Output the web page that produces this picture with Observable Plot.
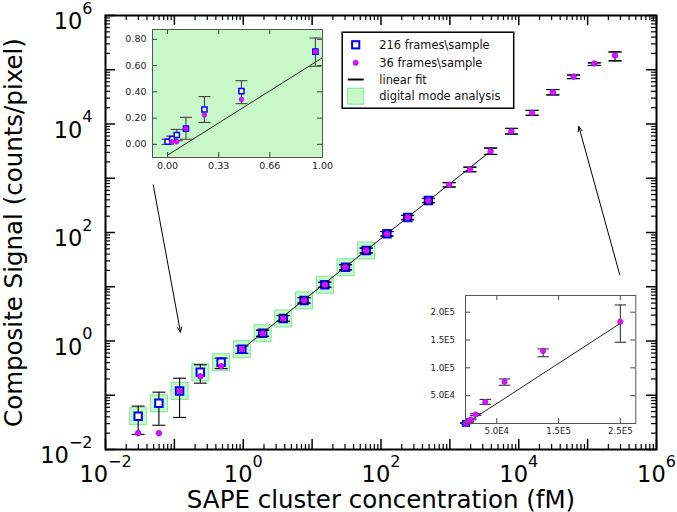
<!DOCTYPE html>
<html><head><meta charset="utf-8">
<script src="https://cdn.jsdelivr.net/npm/d3@7"></script>
<script src="https://cdn.jsdelivr.net/npm/@observablehq/plot@0.6"></script>
<style>
html,body{margin:0;padding:0;background:#fff;}
#wrap{position:relative;width:677px;height:512px;font-family:"DejaVu Sans",sans-serif;overflow:hidden;}
#wrap svg{position:absolute;}
</style></head><body><div id="wrap"></div>
<script>
// ---------- data ----------
const conc = [0.0298, 0.0596, 0.119, 0.238, 0.477, 0.954, 1.91, 3.81, 7.63, 15.3, 30.5, 61.0,
  122, 244, 488, 977, 1953, 3906, 7813, 15625, 31250, 62500, 125000, 250000];
const sig216 = [0.041, 0.071, 0.12, 0.266, 0.406, 0.706, 1.39, 2.6, 5.6, 10.9, 22.9, 46.6, 94.6, 189, 389];
const sig36 = [0.02, 0.02, 0.12, 0.224, 0.343, 0.706, 1.39, 2.6, 5.6, 10.9, 22.9, 46.6, 94.6, 189, 389,
  757, 1450, 3155, 7360, 16070, 38550, 75100, 130400, 183000];
const errLo = [0.019, 0.028, 0.039, 0.167, 0.31, 0.595, 1.22, 2.3, 5.0, 9.8, 20.5, 42, 86, 172, 355,
  690, 1320, 2750, 6530, 14500, 34400, 68700, 120000, 146000];
const errHi = [0.063, 0.114, 0.206, 0.364, 0.485, 0.81, 1.58, 2.95, 6.3, 12.1, 25.5, 51.5, 104, 207, 425,
  830, 1600, 3600, 8300, 17800, 43200, 80000, 134000, 213000];
const nDigital = 12;
const blankConc = [0];
const blankSig216 = [0.02];
const blankErrLo = [0.0];
const blankErrHi = [0.04];
const mainFitX = [0.954, 3906];
const mainFitY = [0.70, 3155];
const inset1FitX = [0, 1.0];
const inset1FitY = [-0.082, 0.66];
const inset2FitX = [0, 250000];
const inset2FitY = [0, 180000];
const decadeExps = [-2, -1, 0, 1, 2, 3, 4, 5, 6];
const labelExps = [-2, 0, 2, 4, 6];
const minorMultipliers = [2, 3, 4, 5, 6, 7, 8, 9];
const in1XTicks = [0, 0.33, 0.66, 1.0];
const in1XLabels = ["0.00", "0.33", "0.66", "1.00"];
const in1YTicks = [0, 0.2, 0.4, 0.6, 0.8];
const in1YLabels = ["0.00", "0.20", "0.40", "0.60", "0.80"];
const in2XTicks = [5e4, 1.5e5, 2.5e5];
const in2XLabels = ["5.0E4", "1.5E5", "2.5E5"];
const in2YTicks = [5e4, 1e5, 1.5e5, 2e5];
const in2YLabels = ["5.0E4", "1.0E5", "1.5E5", "2.0E5"];
const arrowX1 = [0.0493, 2.93e5];
const arrowY1 = [757, 16.6];
const arrowX2 = [0.1227, 7.45e4];
const arrowY2 = [1.452, 8990];
const legendLabels = ["216 frames\\sample", "36 frames\\sample", "linear fit", "digital mode analysis"];
const xTitle = "SAPE cluster concentration (fM)";
const yTitle = "Composite Signal (counts/pixel)";

// ---------- derived tables ----------
const rows = conc.map((c, i) => ({c, i, s216: i < sig216.length ? sig216[i] : null, s36: sig36[i], lo: errLo[i], hi: errHi[i]}));
const rows216 = rows.filter(d => d.s216 != null);
const rowsDigital = rows.filter(d => d.i < nDigital);
const rowsUpper = rows.filter(d => d.i >= 6);
const fitMain = mainFitX.map((x, i) => ({x, y: mainFitY[i]}));
const fit1 = inset1FitX.map((x, i) => ({x, y: inset1FitY[i]}));
const fit2 = inset2FitX.map((x, i) => ({x, y: inset2FitY[i]}));
const arrows = arrowX1.map((x1, i) => ({x1, y1: arrowY1[i], x2: arrowX2[i], y2: arrowY2[i]}));
const blankRows = blankConc.map((c, i) => ({c, s216: blankSig216[i], lo: blankErrLo[i], hi: blankErrHi[i]}));
const inset1Rows = blankRows.concat(rows.filter(d => d.c < 1));
const inset1Circles = rows.filter(d => d.c < 1);
const majorVals = decadeExps.map(e => 10 ** e);
const minorVals = decadeExps.slice(0, -1).flatMap(e => minorMultipliers.map(m => m * 10 ** e));

const GREEN_FILL = "#c8f7c8", GREEN_EDGE = "#7be89a";
const BLUE = "#0000ff", MAGENTA = "#ff00ff", CIRCLE_EDGE = "#5a2cff";
const capSymbol = {draw(ctx, size) { const r = Math.sqrt(size / Math.PI); ctx.moveTo(-r, 0); ctx.lineTo(r, 0); }};
const expLabel = d => "10^" + (d < 0 ? "\u2212" + (-d) : d);

function ticksX(values, len, fh, stroke, sw) {
  return [
    Plot.ruleX(values, {x: d => d, insetTop: fh - len, stroke, strokeWidth: sw}),
    Plot.ruleX(values, {x: d => d, insetBottom: fh - len, stroke, strokeWidth: sw})
  ];
}
function ticksY(values, len, fw, stroke, sw) {
  return [
    Plot.ruleY(values, {y: d => d, insetRight: fw - len, stroke, strokeWidth: sw}),
    Plot.ruleY(values, {y: d => d, insetLeft: fw - len, stroke, strokeWidth: sw})
  ];
}
function errorBars(data, yLo, yHi, capR, stroke, sw) {
  return [
    Plot.ruleX(data, {x: "c", y1: yLo, y2: yHi, stroke, strokeWidth: sw}),
    Plot.dot(data, {x: "c", y: yLo, symbol: capSymbol, r: capR, fill: "none", stroke, strokeWidth: sw}),
    Plot.dot(data, {x: "c", y: yHi, symbol: capSymbol, r: capR, fill: "none", stroke, strokeWidth: sw})
  ];
}

// ---------- main plot ----------
const W = 677, H = 512, mL = 105, mR = 21, mT = 15, mB = 63;
const fW = W - mL - mR, fH = H - mT - mB;
const wrap = document.getElementById("wrap");

const main = Plot.plot({
  width: W, height: H, marginLeft: mL, marginRight: mR, marginTop: mT, marginBottom: mB,
  style: {background: "transparent", fontFamily: "DejaVu Sans", overflow: "visible", color: "black"},
  x: {type: "log", domain: [1e-2, 1e6], axis: null},
  y: {type: "log", domain: [1e-2, 1e6], axis: null},
  marks: [
    Plot.dot(rowsDigital, {x: "c", y: "s216", symbol: "square", r: 9.6, fill: GREEN_FILL, stroke: GREEN_EDGE, strokeWidth: 1}),
    ...errorBars(rows, "lo", "hi", 6.5, "black", 1.1),
    Plot.dot(rows216, {x: "c", y: "s216", symbol: "square", r: 4.2, fill: "white", stroke: BLUE, strokeWidth: 2}),
    Plot.line(fitMain, {x: "x", y: "y", stroke: "black", strokeWidth: 1}),
    ...errorBars(rowsUpper, "lo", "hi", 6.5, "black", 1.1).slice(1),
    Plot.dot(rows, {x: "c", y: "s36", r: 2.8, fill: MAGENTA, stroke: CIRCLE_EDGE, strokeWidth: 0.8}),
    Plot.arrow(arrows, {x1: "x1", y1: "y1", x2: "x2", y2: "y2", stroke: "black", strokeWidth: 1, headLength: 8, headAngle: 45}),
    ...ticksX(majorVals, 10, fH, "black", 1.5),
    ...ticksX(minorVals, 5, fH, "black", 1.2),
    ...ticksY(majorVals, 10, fW, "black", 1.5),
    ...ticksY(minorVals, 5, fW, "black", 1.2),
    Plot.frame({stroke: "black", strokeWidth: 2}),
    Plot.text(labelExps, {x: d => 10 ** d, text: expLabel, frameAnchor: "bottom", dy: 32.7,
      lineAnchor: "bottom", textAnchor: "middle", fontSize: 22.5, fill: "black"}),
    Plot.text(labelExps, {y: d => 10 ** d, text: expLabel, frameAnchor: "left", dx: -13, dy: 13.5,
      lineAnchor: "bottom", textAnchor: "end", fontSize: 22.5, fill: "black"}),
    Plot.text([xTitle], {text: d => d, frameAnchor: "bottom", dy: 58, lineAnchor: "bottom", textAnchor: "middle", fontSize: 24.5, fill: "black"}),
    Plot.text([yTitle], {text: d => d, frameAnchor: "left", dx: -83.5, rotate: -90, lineAnchor: "bottom", textAnchor: "middle", fontSize: 24.5, fill: "black"})
  ]
});
main.style.left = "0px"; main.style.top = "0px";
wrap.appendChild(main);

// turn "10^e" tick labels into base + superscript tspans
d3.select(main).selectAll("text").each(function () {
  const t = this.textContent;
  if (t.indexOf("^") < 0) return;
  const [b, e] = t.split("^");
  this.textContent = "";
  const s = d3.select(this);
  s.append("tspan").text(b);
  s.append("tspan").attr("font-size", 16).attr("dy", -15.5).text(e);
});

// ---------- inset 1 ----------
const i1 = {l: 35, r: 12, t: 5, b: 20, fw: 170, fh: 128};
const inset1 = Plot.plot({
  width: i1.l + i1.fw + i1.r, height: i1.t + i1.fh + i1.b,
  marginLeft: i1.l, marginRight: i1.r, marginTop: i1.t, marginBottom: i1.b,
  style: {background: "transparent", fontFamily: "DejaVu Sans", overflow: "visible"},
  x: {domain: [-0.097, 1.0], axis: null},
  y: {domain: [-0.1, 0.875], axis: null},
  marks: [
    Plot.frame({fill: GREEN_FILL, stroke: "none"}),
    Plot.line(fit1, {x: "x", y: "y", stroke: "#222", strokeWidth: 1}),
    ...errorBars(inset1Rows, "lo", "hi", 6, "#444", 1.1),
    Plot.dot(inset1Rows, {x: "c", y: "s216", symbol: "square", r: 2.9, fill: "white", stroke: BLUE, strokeWidth: 1.5}),
    Plot.dot(inset1Circles, {x: "c", y: "s36", r: 2.4, fill: MAGENTA, stroke: CIRCLE_EDGE, strokeWidth: 0.6}),
    ...ticksX(in1XTicks, 5, i1.fh, "#444", 1),
    ...ticksY(in1YTicks, 5, i1.fw, "#444", 1),
    Plot.frame({stroke: "#555", strokeWidth: 1}),
    Plot.text(in1XTicks, {x: d => d, text: (d, i) => in1XLabels[i], frameAnchor: "bottom", dy: 11.7, lineAnchor: "bottom", textAnchor: "middle", fontSize: 9.5, fill: "#222"}),
    Plot.text(in1YTicks, {y: d => d, text: (d, i) => in1YLabels[i], frameAnchor: "left", dx: -6, textAnchor: "end", lineAnchor: "middle", fontSize: 9.5, fill: "#222"})
  ]
});
inset1.style.left = (151.7 - i1.l) + "px"; inset1.style.top = (29.3 - i1.t) + "px";
wrap.appendChild(inset1);

// ---------- inset 2 ----------
const i2 = {l: 42, r: 12, t: 8, b: 18, fw: 170.3, fh: 128};
const inset2 = Plot.plot({
  width: i2.l + i2.fw + i2.r, height: i2.t + i2.fh + i2.b,
  marginLeft: i2.l, marginRight: i2.r, marginTop: i2.t, marginBottom: i2.b,
  style: {background: "transparent", fontFamily: "DejaVu Sans", overflow: "visible"},
  x: {domain: [-700, 2.75e5], axis: null},
  y: {domain: [0, 2.3e5], axis: null},
  marks: [
    Plot.frame({fill: "white", stroke: "none"}),
    Plot.line(fit2, {x: "x", y: "y", stroke: "#222", strokeWidth: 1}),
    ...errorBars(rows, "lo", "hi", 5.7, "#333", 1.1),
    Plot.dot(rows216, {x: "c", y: "s216", symbol: "square", r: 2.9, fill: "white", stroke: BLUE, strokeWidth: 1.5}),
    Plot.dot(rows, {x: "c", y: "s36", r: 2.7, fill: MAGENTA, stroke: CIRCLE_EDGE, strokeWidth: 0.6}),
    ...ticksX(in2XTicks, 5, i2.fh, "#444", 1),
    ...ticksY(in2YTicks, 5, i2.fw, "#444", 1),
    Plot.frame({stroke: "#555", strokeWidth: 1}),
    Plot.text(in2XTicks, {x: d => d, text: (d, i) => in2XLabels[i], frameAnchor: "bottom", dy: 10.2, lineAnchor: "bottom", textAnchor: "middle", fontSize: 8.6, fill: "#222"}),
    Plot.text(in2YTicks, {y: d => d, text: (d, i) => in2YLabels[i], frameAnchor: "left", dx: -10.5, textAnchor: "end", lineAnchor: "middle", fontSize: 8.6, fill: "#222"})
  ]
});
inset2.style.left = (464.7 - i2.l) + "px"; inset2.style.top = (295.3 - i2.t) + "px";
wrap.appendChild(inset2);

// ---------- legend ----------
const lg = d3.create("svg").attr("width", 175).attr("height", 80)
  .style("left", "341px").style("top", "30.5px").style("font-family", "DejaVu Sans");
lg.append("rect").attr("x", 1.2).attr("y", 1.2).attr("width", 171.5).attr("height", 76)
  .attr("fill", "white").attr("stroke", "black").attr("stroke-width", 1.5);
const rowY = [13.8, 31.8, 48.5, 65.2];
const mx = 14.7;
lg.append("rect").attr("x", mx - 3.6).attr("y", rowY[0] - 3.6).attr("width", 7.2).attr("height", 7.2)
  .attr("fill", "white").attr("stroke", BLUE).attr("stroke-width", 2);
lg.append("circle").attr("cx", mx).attr("cy", rowY[1]).attr("r", 2.6).attr("fill", MAGENTA).attr("stroke", CIRCLE_EDGE).attr("stroke-width", 0.7);
lg.append("line").attr("x1", mx - 8).attr("x2", mx + 8).attr("y1", rowY[2]).attr("y2", rowY[2]).attr("stroke", "black").attr("stroke-width", 2);
lg.append("rect").attr("x", mx - 8).attr("y", rowY[3] - 8).attr("width", 16).attr("height", 16)
  .attr("fill", GREEN_FILL).attr("stroke", GREEN_EDGE).attr("stroke-width", 1);
legendLabels.forEach((t, i) => {
  lg.append("text").attr("x", 38.3).attr("y", rowY[i]).attr("dy", "0.36em").attr("font-size", 11.4).attr("fill", "#111").text(t);
});
wrap.appendChild(lg.node());
</script></body></html>
